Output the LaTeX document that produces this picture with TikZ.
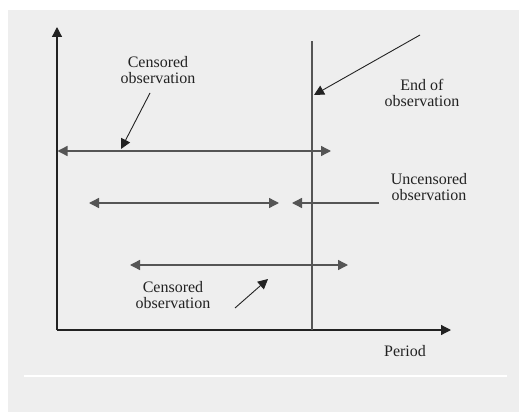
\documentclass[tikz,border=0pt]{standalone}
\usepackage{fontspec}
\setmainfont{Liberation Serif}
\usetikzlibrary{arrows.meta}
\definecolor{bg}{HTML}{EEEEEE}
\definecolor{ln}{HTML}{555555}
\definecolor{ax}{HTML}{222222}
\begin{document}
\begin{tikzpicture}[x=1pt,y=-1pt,
  lbl/.style={align=center,inner sep=0pt,font=\fontsize{16}{16.5}\selectfont,text=ax},
  tip/.style={-{Triangle[length=10pt,width=10pt]}},
  both/.style={{Triangle[length=10pt,width=10pt]}-{Triangle[length=10pt,width=10pt]}},
  axis/.style={draw=ax,line width=1.2pt,tip},
  hline/.style={draw=ln,line width=1.4pt},
  thin/.style={draw=ax,line width=0.9pt,tip}]
\useasboundingbox (0,0) rectangle (519,412);
\fill[white] (0,0) rectangle (519,412);
\fill[bg] (8,10) rectangle (519,412);
\draw[white,line width=2pt] (24,376) -- (507,376);
% coordinates
\coordinate (O) at (57,330);
\coordinate (Ytop) at (57,27);
\coordinate (Xend) at (451,330);
\coordinate (Vtop) at (312,41);
\coordinate (Vbot) at (312,330);
\coordinate (a1l) at (57.5,151);
\coordinate (a1r) at (331,151);
\coordinate (a2l) at (89,203);
\coordinate (a2r) at (279,203);
\coordinate (a3l) at (292,203);
\coordinate (a3r) at (379,203);
\coordinate (a4l) at (130,265);
\coordinate (a4r) at (348,265);
\coordinate (p1s) at (150,93);
\coordinate (p1e) at (121,149);
\coordinate (p2s) at (420,35);
\coordinate (p2e) at (314,95);
\coordinate (p3s) at (235,308);
\coordinate (p3e) at (268,279);
% labels
\node[lbl] (cens1) at (158,70) {Censored\\observation};
\node[lbl] (endobs) at (422,93) {End of\\observation};
\node[lbl] (uncens) at (429,187) {Uncensored\\observation};
\node[lbl] (cens2) at (173,295) {Censored\\observation};
\node[lbl] (period) at (405,351) {Period};
% axes
\draw[axis] (O) -- (Ytop);
\draw[axis] (O) -- (Xend);
\draw[draw=ln,line width=1.2pt] (Vbot) -- (Vtop);
% intervals
\draw[hline,both] (a1l) -- (a1r);
\draw[hline,both] (a2l) -- (a2r);
\draw[hline,tip] (a3r) -- (a3l);
\draw[hline,both] (a4l) -- (a4r);
% pointers
\draw[thin] (p1s) -- (p1e);
\draw[thin] (p2s) -- (p2e);
\draw[thin] (p3s) -- (p3e);
\end{tikzpicture}
\end{document}
